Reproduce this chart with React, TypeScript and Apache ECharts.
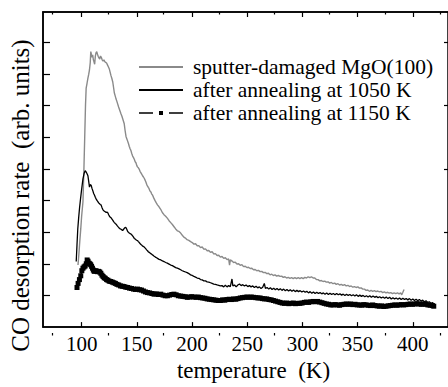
import React, { useEffect, useRef } from "react";
import * as echarts from "echarts";

const seriesNames = [
  "sputter-damaged MgO(100)",
  "after annealing at 1050 K",
  "after annealing at 1150 K",
];

const xMajorTicks = [100, 150, 200, 250, 300, 350, 400];
const xMinorTicks = [75, 125, 175, 225, 275, 325, 375, 425];
const yLeftTicks = [1, 2, 3, 4, 5, 6, 7, 8, 9];
const yRightTicks = [1, 3, 5, 7, 9];

const sputterDamaged: number[][] = [
  [96.7,1.96],[97.5,2.3],[98.3,2.7],[99.2,3.1],[100.0,3.5],[101.2,3.96],[102.0,4.9],[102.8,6.0],[103.5,7.0],[104.1,7.55],[104.9,7.7],[105.7,7.86],[106.4,7.98],[107.1,8.12],[107.8,8.35],[108.3,8.7],[108.8,8.62],[109.4,8.52],[110.0,8.6],[110.6,8.45],[111.2,8.38],[111.8,8.3],[112.4,8.55],[113.0,8.66],[113.7,8.7],[114.3,8.62],[115.0,8.55],[115.7,8.5],[116.4,8.46],[117.1,8.56],[117.8,8.52],[118.6,8.44],[119.4,8.4],[120.2,8.44],[121.0,8.38],[121.8,8.36],[122.6,8.34],[123.4,8.28],[124.2,8.22],[125.0,8.16],[125.8,8.05],[126.6,7.94],[127.4,7.85],[128.2,7.74],[129.0,7.55],[129.6,7.4],[130.4,7.3],[131.2,7.2],[132.0,7.12],[132.7,7.04],[133.5,6.95],[134.2,6.88],[135.0,6.8],[135.7,6.73],[136.5,6.66],[137.2,6.58],[137.9,6.5],[138.6,6.42],[139.4,6.2],[140.2,6.02],[140.9,5.95],[141.6,5.88],[142.4,5.8],[143.1,5.71],[143.9,5.63],[144.6,5.58],[145.4,5.48],[146.2,5.4],[147.0,5.35],[147.7,5.3],[148.5,5.22],[149.2,5.19],[150.0,5.1],[150.6,5.06],[151.4,5.03],[152.1,4.99],[152.9,4.92],[153.6,4.88],[154.4,4.83],[155.2,4.78],[156.0,4.74],[156.7,4.7],[157.5,4.64],[158.2,4.58],[159.0,4.5],[159.6,4.46],[160.4,4.41],[161.1,4.37],[161.9,4.3],[162.7,4.27],[163.5,4.2],[164.2,4.17],[165.3,4.08],[166.4,4.0],[167.5,3.93],[168.7,3.86],[170.1,3.8],[171.6,3.72],[173.1,3.62],[174.6,3.55],[176.1,3.5],[177.6,3.44],[179.2,3.36],[180.7,3.3],[182.2,3.24],[183.7,3.17],[185.2,3.1],[186.7,3.04],[188.2,3.02],[189.7,2.97],[191.2,2.9],[192.6,2.84],[194.0,2.81],[195.5,2.76],[197.1,2.74],[198.7,2.7],[200.2,2.67],[201.7,2.62],[203.2,2.63],[204.7,2.57],[206.2,2.57],[207.7,2.51],[209.2,2.53],[210.7,2.46],[212.2,2.47],[213.7,2.41],[215.2,2.42],[216.7,2.36],[218.2,2.38],[219.7,2.31],[221.2,2.32],[222.7,2.26],[224.2,2.27],[225.7,2.21],[227.2,2.23],[228.7,2.17],[230.2,2.19],[231.7,2.13],[233.2,2.15],[234.0,1.96],[234.7,2.12],[236.2,2.09],[237.7,2.04],[239.2,2.05],[240.7,1.99],[242.2,2.0],[243.7,1.95],[245.2,1.97],[246.7,1.91],[248.2,1.92],[249.7,1.88],[251.2,1.89],[252.7,1.85],[254.2,1.86],[255.7,1.81],[257.2,1.82],[258.7,1.78],[260.2,1.79],[261.7,1.75],[263.2,1.76],[264.7,1.72],[266.2,1.73],[267.7,1.69],[269.2,1.7],[270.7,1.65],[272.2,1.67],[273.7,1.63],[275.2,1.65],[276.7,1.61],[278.2,1.63],[279.7,1.6],[281.2,1.61],[282.7,1.57],[284.2,1.59],[285.7,1.55],[287.2,1.57],[288.7,1.54],[290.2,1.56],[291.7,1.53],[293.2,1.56],[294.7,1.53],[296.2,1.56],[297.7,1.53],[299.2,1.56],[300.7,1.53],[302.2,1.57],[303.7,1.55],[305.2,1.59],[306.7,1.56],[308.2,1.59],[309.7,1.55],[311.2,1.55],[312.7,1.5],[314.2,1.5],[315.7,1.46],[317.2,1.47],[318.7,1.44],[320.2,1.45],[321.7,1.42],[323.2,1.43],[324.7,1.39],[326.2,1.41],[327.7,1.37],[329.2,1.39],[330.7,1.35],[332.2,1.37],[333.7,1.33],[335.2,1.35],[336.7,1.32],[338.2,1.34],[339.7,1.3],[341.2,1.32],[342.7,1.28],[344.2,1.3],[345.7,1.26],[347.2,1.28],[348.7,1.25],[350.2,1.27],[351.7,1.23],[353.2,1.24],[354.7,1.2],[356.2,1.2],[357.7,1.16],[359.2,1.17],[360.7,1.13],[362.2,1.16],[363.7,1.13],[365.2,1.15],[366.7,1.12],[368.2,1.14],[369.7,1.11],[371.2,1.13],[372.7,1.09],[374.2,1.11],[375.7,1.08],[377.2,1.1],[378.6,1.07],[380.1,1.09],[381.6,1.06],[383.1,1.08],[384.6,1.06],[386.1,1.08],[387.6,1.05],[389.0,1.08],[390.0,1.02],[391.0,1.1],[392.1,1.19]
];

const annealed1050: number[][] = [
  [95.1,2.07],[95.8,2.6],[96.5,3.1],[97.3,3.45],[98.1,3.76],[99.0,4.05],[100.0,4.35],[101.2,4.68],[102.2,4.85],[103.2,4.94],[104.0,4.9],[104.8,4.85],[105.7,4.78],[106.4,4.6],[107.1,4.42],[107.8,4.5],[108.6,4.48],[109.4,4.38],[110.2,4.3],[110.9,4.22],[111.6,4.17],[112.4,4.1],[113.1,4.05],[113.9,4.0],[114.7,3.96],[115.4,3.92],[116.2,3.9],[116.9,3.87],[117.6,3.86],[118.4,3.78],[119.1,3.72],[119.9,3.68],[120.6,3.66],[121.4,3.64],[122.2,3.62],[122.9,3.63],[123.7,3.61],[124.5,3.55],[125.2,3.5],[126.0,3.47],[126.7,3.45],[127.5,3.41],[128.3,3.37],[129.0,3.33],[129.7,3.3],[130.5,3.27],[131.2,3.25],[132.0,3.21],[132.7,3.18],[133.5,3.15],[134.2,3.12],[135.0,3.1],[135.7,3.09],[136.5,3.07],[137.2,3.05],[138.0,3.09],[138.7,3.12],[139.5,3.15],[140.2,3.14],[141.0,3.08],[141.7,3.02],[142.4,2.99],[143.2,2.97],[144.0,2.95],[144.7,2.94],[145.5,2.91],[146.2,2.88],[147.0,2.84],[147.7,2.8],[148.5,2.78],[149.2,2.76],[150.0,2.74],[150.7,2.73],[151.4,2.7],[152.2,2.67],[152.9,2.64],[153.7,2.61],[154.4,2.59],[155.2,2.56],[155.9,2.55],[156.6,2.53],[157.4,2.5],[158.2,2.47],[158.9,2.44],[159.7,2.41],[160.4,2.38],[161.2,2.36],[162.0,2.34],[162.7,2.32],[163.5,2.3],[164.2,2.28],[165.0,2.26],[165.7,2.24],[166.5,2.22],[167.2,2.2],[168.0,2.19],[168.7,2.17],[170.2,2.14],[171.7,2.12],[173.2,2.09],[174.6,2.07],[176.1,2.04],[177.6,2.02],[179.2,1.99],[180.7,1.96],[182.2,1.94],[183.7,1.91],[185.2,1.88],[186.7,1.86],[188.2,1.84],[189.7,1.81],[191.2,1.78],[192.6,1.76],[194.1,1.74],[195.6,1.72],[197.1,1.69],
  [198.7,1.65],[200.2,1.63],[201.7,1.6],[203.2,1.58],[204.7,1.55],[206.2,1.54],[207.7,1.5],[209.2,1.49],[210.7,1.46],[212.2,1.46],[213.7,1.43],[215.2,1.42],[216.7,1.4],[218.2,1.38],[219.7,1.36],[221.2,1.35],[222.7,1.33],[224.2,1.32],[225.7,1.3],[227.2,1.31],[228.7,1.27],[230.2,1.32],[231.7,1.27],[233.2,1.31],[234.7,1.28],[236.2,1.52],[237.0,1.3],[238.5,1.33],[240.0,1.27],[241.5,1.33],[243.0,1.36],[244.5,1.31],[246.0,1.34],[247.5,1.3],[249.0,1.33],[250.5,1.28],[252.0,1.31],[253.5,1.27],[255.0,1.3],[256.5,1.25],[258.0,1.29],[259.5,1.24],[261.0,1.27],[262.5,1.22],[264.0,1.26],[265.5,1.38],[266.5,1.22],[268.0,1.25],[269.5,1.2],[271.0,1.24],[272.5,1.19],[274.0,1.23],[275.5,1.18],[277.0,1.22],[278.5,1.17],[280.0,1.21],[281.5,1.16],[283.0,1.2],[284.5,1.15],[286.0,1.19],[287.5,1.14],[289.0,1.18],[290.5,1.13],[292.0,1.17],[293.5,1.12],[295.0,1.16],[296.5,1.12],[298.0,1.15],[299.5,1.11],[301.0,1.14],[302.5,1.1],[304.0,1.13],[305.5,1.08],[307.0,1.12],[308.5,1.07],[310.0,1.11],[311.5,1.06],[313.0,1.1],[314.5,1.06],[316.0,1.09],[317.5,1.05],[319.0,1.08],[320.5,1.04],[322.0,1.08],[323.5,1.03],[325.0,1.07],[326.5,1.03],[328.0,1.06],[329.5,1.02],[331.0,1.06],[332.5,1.02],[334.0,1.05],[335.5,1.01],[337.0,1.04],[338.5,1.0],[340.0,1.04],[341.5,1.0],[343.0,1.03],[344.5,0.99],[346.0,1.02],[347.5,0.98],[349.0,1.02],[350.5,0.97],[352.0,1.01],[353.5,0.97],[355.0,1.0],[356.5,0.96],[358.0,0.99],[359.5,0.95],[361.0,0.99],[362.5,0.94],[364.0,0.98],[365.5,0.94],[367.0,0.97],[368.5,0.93],[370.0,0.96],[371.5,0.92],[373.0,0.95],[374.5,0.91],[376.0,0.95],[377.5,0.9],[379.0,0.94],[380.5,0.89],[382.0,0.93],[383.5,0.89],[385.0,0.92],[386.5,0.88],[388.0,0.92],[389.5,0.87],[391.0,0.91],[392.5,0.87],[394.0,0.9],[395.5,0.86],[397.0,0.9],[398.5,0.85],[400.0,0.89],[401.5,0.84],[403.0,0.88],[404.5,0.83],[406.0,0.87],[407.5,0.82],[409.0,0.85],[410.5,0.8],[412.0,0.83],[413.5,0.78],[415.0,0.8],[416.5,0.75],[418.0,0.77],[419.1,0.73]
];

const annealed1150: number[][] = [
  [95.8,1.25],[96.8,1.38],[98.0,1.5],[99.2,1.62],[100.2,1.78],[101.2,1.86],[102.2,1.9],[103.2,1.93],[104.2,2.0],[105.0,2.12],[105.8,2.08],[106.6,2.02],[107.4,2.0],[108.2,1.97],[109.0,1.92],[109.8,1.86],[110.6,1.8],[111.4,1.76],[112.4,1.78],[113.4,1.77],[114.4,1.75],[115.4,1.76],[116.4,1.74],[117.4,1.7],[118.4,1.64],[119.4,1.6],[120.4,1.56],[121.4,1.54],[122.6,1.5],[123.8,1.48],[125.0,1.45],[126.4,1.44],[127.8,1.42],[129.2,1.4],[130.6,1.38],[132.0,1.35],[133.6,1.33],[135.2,1.3],[136.8,1.29],[138.4,1.28],[140.0,1.26],[141.7,1.25],[143.4,1.23],[145.2,1.22],[147.0,1.2],[148.8,1.19],[150.6,1.2],[152.4,1.18],[154.2,1.17],[156.0,1.14],[157.8,1.11],[159.7,1.09],[161.6,1.08],[163.6,1.06],[165.6,1.04],[167.6,1.05],[169.6,1.03],[171.7,1.04],[173.7,1.01],[175.7,0.99],[177.7,0.99],[179.7,1.01],[181.7,1.03],[183.6,1.04],[185.6,1.02],[187.6,0.99],[189.7,0.98],[191.7,0.97],[193.7,0.96],[195.7,0.94],[197.7,0.95],[199.7,0.96],[201.7,0.95],[203.7,0.94],[205.7,0.95],[207.7,0.93],[209.7,0.92],[211.7,0.91],[213.7,0.89],[215.7,0.88],[217.7,0.87],[219.7,0.86],[221.7,0.85],[223.7,0.84],[225.7,0.84],[227.7,0.86],[229.7,0.85],[231.7,0.87],[233.7,0.88],[235.7,0.87],[237.7,0.89],[239.7,0.88],[241.7,0.9],[243.7,0.92],[245.7,0.93],[247.7,0.94],[249.7,0.95],[251.7,0.94],[253.7,0.95],[255.7,0.94],[257.7,0.93],[259.7,0.92],[261.7,0.92],[263.7,0.9],[265.7,0.89],[267.7,0.89],[269.7,0.87],[271.7,0.86],[273.7,0.84],[275.7,0.82],[277.7,0.8],[279.7,0.78],[281.7,0.76],[283.7,0.75],[285.7,0.76],[287.7,0.74],[289.7,0.75],[291.7,0.76],[293.7,0.74],[295.7,0.75],[297.7,0.75],[299.7,0.76],[301.7,0.78],[303.7,0.79],[305.7,0.78],[307.7,0.8],[309.7,0.81],[311.7,0.8],[313.7,0.81],[315.7,0.79],[317.7,0.77],[319.7,0.75],[321.7,0.73],[323.7,0.72],[325.7,0.7],[327.7,0.7],[329.7,0.71],[331.7,0.7],[333.7,0.69],[335.7,0.71],[337.7,0.72],[339.7,0.73],[341.7,0.72],[343.7,0.73],[345.7,0.71],[347.7,0.72],[349.7,0.7],[351.7,0.7],[353.7,0.69],[355.7,0.71],[357.7,0.7],[359.7,0.69],[361.7,0.68],[363.7,0.7],[365.7,0.68],[367.7,0.67],[369.7,0.66],[371.7,0.67],[373.7,0.65],[375.7,0.66],[377.7,0.67],[379.7,0.68],[381.7,0.69],[383.7,0.7],[385.7,0.69],[387.7,0.7],[389.7,0.71],[391.7,0.7],[393.7,0.71],[395.7,0.72],[397.7,0.73],[399.7,0.72],[401.7,0.73],[403.7,0.74],[405.7,0.73],[407.7,0.72],[409.7,0.73],[411.7,0.72],[413.7,0.7],[415.7,0.69],[417.8,0.68],[419.0,0.66]
];

const FONT = "Liberation Serif";
const FONT_TICK = "Times New Roman";
const GRID = { left: 41.5, top: 12, width: 407.5, height: 323.5, containLabel: false };
const X_MIN = 65;
const X_MAX = 431.9;
const Y_MIN = 0;
const Y_MAX = 9.95;

function frameLine() {
  return { show: true, onZero: false, lineStyle: { color: "#000", width: 1.5 } };
}
function tickStyle() {
  return { color: "#000", width: 1.2 };
}

export default function App() {
  const ref = useRef<HTMLDivElement>(null);

  useEffect(() => {
    if (!ref.current) return;
    const chart = echarts.init(ref.current, undefined, { renderer: "svg" });

    const option: any = {
      animation: false,
      backgroundColor: "#fff",
      grid: [
        { ...GRID, show: true, borderColor: "#000", borderWidth: 1.5, backgroundColor: "transparent" },
        { ...GRID },
      ],
      legend: {
        left: 138,
        top: 56,
        orient: "vertical",
        itemWidth: 44,
        itemHeight: 5,
        itemGap: 1,
        padding: 0,
        textStyle: { fontFamily: FONT, fontSize: 21.5, color: "#000", lineHeight: 21, padding: [0, 0, 0, 5] },
        data: [
          { name: seriesNames[0], itemStyle: { opacity: 0 } },
          { name: seriesNames[1], itemStyle: { opacity: 0 } },
          { name: seriesNames[2], lineStyle: { type: [14, 16], width: 1.3 } },
        ],
      },
      xAxis: [
        {
          type: "value", gridIndex: 0, position: "bottom", min: X_MIN, max: X_MAX,
          axisLine: frameLine(), splitLine: { show: false },
          axisTick: { show: true, inside: true, length: 5, lineStyle: tickStyle(), customValues: xMajorTicks },
          axisLabel: { show: true, customValues: xMajorTicks, margin: 6, fontFamily: FONT_TICK, fontSize: 21, color: "#000" },
          name: "temperature  (K)", nameLocation: "middle", nameGap: 31,
          nameTextStyle: { fontFamily: FONT, fontSize: 23, color: "#000", padding: [0, 0, 0, 16] },
        },
        {
          type: "value", gridIndex: 0, position: "top", min: X_MIN, max: X_MAX,
          axisLine: frameLine(), splitLine: { show: false },
          axisTick: { show: true, inside: true, length: 5, lineStyle: tickStyle(), customValues: xMajorTicks },
          axisLabel: { show: false },
        },
        {
          type: "value", gridIndex: 1, position: "bottom", min: X_MIN, max: X_MAX,
          axisLine: { show: false, onZero: false }, splitLine: { show: false },
          axisTick: { show: true, inside: true, length: 2.5, lineStyle: tickStyle(), customValues: xMinorTicks },
          axisLabel: { show: false },
        },
        {
          type: "value", gridIndex: 1, position: "top", min: X_MIN, max: X_MAX,
          axisLine: { show: false, onZero: false }, splitLine: { show: false },
          axisTick: { show: true, inside: true, length: 2.5, lineStyle: tickStyle(), customValues: xMinorTicks },
          axisLabel: { show: false },
        },
      ],
      yAxis: [
        {
          type: "value", gridIndex: 0, position: "left", min: Y_MIN, max: Y_MAX,
          axisLine: frameLine(), splitLine: { show: false },
          axisTick: { show: true, inside: true, length: 7, lineStyle: tickStyle(), customValues: yLeftTicks },
          axisLabel: { show: false },
          name: "CO desorption rate  (arb. units)", nameLocation: "middle", nameGap: 10,
          nameTextStyle: { fontFamily: FONT, fontSize: 25, color: "#000", padding: [0, 52, 0, 0] },
        },
        {
          type: "value", gridIndex: 0, position: "right", min: Y_MIN, max: Y_MAX,
          axisLine: { show: false, onZero: false }, splitLine: { show: false },
          axisTick: { show: true, inside: true, length: 4, lineStyle: tickStyle(), customValues: yRightTicks },
          axisLabel: { show: false },
        },
        {
          type: "value", gridIndex: 1, position: "left", min: Y_MIN, max: Y_MAX,
          axisLine: { show: false, onZero: false }, axisTick: { show: false }, axisLabel: { show: false },
          splitLine: { show: false },
        },
      ],
      series: [
        {
          name: seriesNames[0], type: "line", xAxisIndex: 0, yAxisIndex: 0,
          data: sputterDamaged, symbol: "none", color: "#8a8a8a",
          lineStyle: { color: "#8a8a8a", width: 1.4 }, z: 3,
        },
        {
          name: seriesNames[1], type: "line", xAxisIndex: 0, yAxisIndex: 0,
          data: annealed1050, symbol: "none", color: "#000",
          lineStyle: { color: "#000", width: 1.3 }, z: 4,
        },
        {
          name: seriesNames[2], type: "line", xAxisIndex: 0, yAxisIndex: 0,
          data: annealed1150, symbol: "rect", symbolSize: 5, showSymbol: true, color: "#000",
          itemStyle: { color: "#000" },
          lineStyle: { color: "#000", width: 1.6 }, z: 5,
        },
      ],
    };
    chart.setOption(option);
    return () => chart.dispose();
  }, []);

  return (
    <div
      ref={ref}
      style={{ position: "fixed", left: 0, top: 0, width: 448, height: 387, background: "#fff" }}
    />
  );
}
